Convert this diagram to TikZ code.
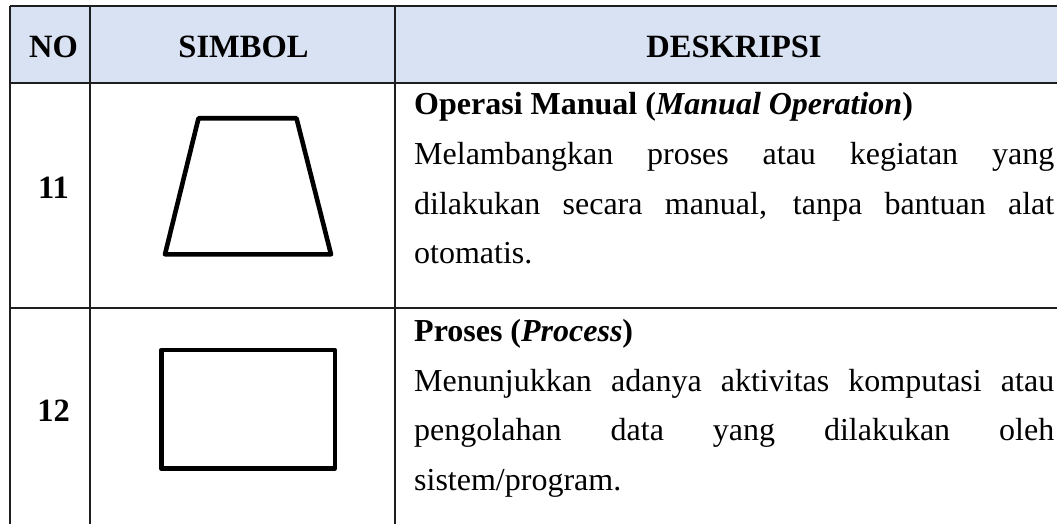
\documentclass[tikz,border=0pt]{standalone}
\usepackage{fontspec}
\setmainfont{Liberation Serif}
\definecolor{hdrfill}{HTML}{D9E2F3}
\definecolor{gridline}{HTML}{1E1E1E}
\tikzset{
  grid/.style={draw=gridline, line width=1.6pt},
  sym/.style={draw=black, line width=4.6pt, line join=round},
  txt/.style={inner sep=0pt, anchor=base west, font=\fontsize{32pt}{49.5pt}\selectfont},
  hdr/.style={inner sep=0pt, anchor=base, font=\fontsize{32.5pt}{40pt}\selectfont\bfseries},
}
\newcommand{\jline}[1]{\makebox[640pt][s]{#1}}
\begin{document}
\begin{tikzpicture}[x=1pt,y=-1pt]
\useasboundingbox (0,0) rectangle (1057,524);
\begin{scope}
\clip (0,0) rectangle (1057,524);
% header fill
\fill[hdrfill] (10,6.3) rectangle (1070,83.3);
% horizontal lines
\draw[grid] (10,6.3) -- (1070,6.3);
\draw[grid] (10,83.3) -- (1070,83.3);
\draw[grid] (10,308) -- (1070,308);
% vertical lines
\draw[grid] (10,6.3) -- (10,540);
\draw[grid] (90,6.3) -- (90,540);
\draw[grid] (395,6.3) -- (395,540);
\end{scope}
% header
\node[hdr] (hno) at (53.5,57.3) {NO};
\node[hdr] (hsim) at (243.5,57.3) {SIMBOL};
\node[hdr] (hdes) at (734,57.3) {DESKRIPSI};
% numbers
\node[hdr] (n11) at (53.5,198.3) {11};
\node[hdr] (n12) at (53.5,421.7) {12};
% symbols
\draw[sym] (198.5,118.3) -- (296.5,118.3) -- (331,254.3) -- (165,254.3) -- cycle;
\draw[sym] (161.3,350) rectangle (334.8,468.7);
% row 11 text
\node[txt] (t11a) at (414,115) {\textbf{Operasi Manual (\textit{Manual Operation})}};
\node[txt] (t11b) at (414,164.5) {\jline{Melambangkan proses atau kegiatan yang}};
\node[txt] (t11c) at (414,214) {\jline{dilakukan secara manual, tanpa bantuan alat}};
\node[txt] (t11d) at (414,263.5) {otomatis.};
% row 12 text
\node[txt] (t12a) at (414,341.5) {\textbf{Proses (\textit{Process})}};
\node[txt] (t12b) at (414,391) {\jline{Menunjukkan adanya aktivitas komputasi atau}};
\node[txt] (t12c) at (414,440.5) {\jline{pengolahan data yang dilakukan oleh}};
\node[txt] (t12d) at (414,490) {sistem/program.};
\end{tikzpicture}
\end{document}
